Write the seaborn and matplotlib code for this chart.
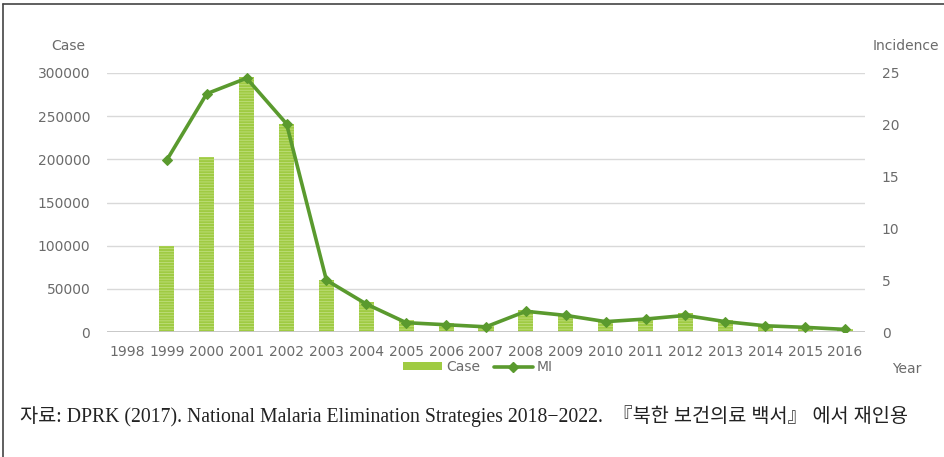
import matplotlib
matplotlib.use("Agg")
import matplotlib.pyplot as plt
from matplotlib.lines import Line2D
from matplotlib.patches import Patch
import numpy as np
import pandas as pd
import seaborn as sns

# Malaria cases and incidence (MI) in DPRK, 1998-2016
years = [str(y) for y in range(1998, 2017)]
cases = [0, 100000, 203000, 295000, 241000, 60000, 35000, 13500, 10500, 7500,
         25500, 20000, 13500, 16000, 21500, 14000, 8500, 5000, 4000]
mi_years = [str(y) for y in range(1999, 2017)]
mi_values = [16.6, 23.0, 24.5, 20.1, 5.0, 2.7, 0.9, 0.7, 0.5, 2.0,
             1.6, 1.0, 1.25, 1.6, 1.0, 0.6, 0.45, 0.25]

left_ticks = [0, 50000, 100000, 150000, 200000, 250000, 300000]
right_ticks = [0, 5, 10, 15, 20, 25]

BAR_GREEN = "#9fcb42"
BAR_LIGHT = "#c0de7e"
LINE_GREEN = "#5a9a2e"
GRID = "#d9d9d9"
TICK_GREY = "#6b6b6b"

sns.set_theme(style="white")
plt.rcParams["font.family"] = ["DejaVu Sans", "Noto Sans CJK KR"]
plt.rcParams["hatch.linewidth"] = 0.6

W, H = 945, 457
fig = plt.figure(figsize=(W / 100, H / 100), dpi=100)
fig.patch.set_facecolor("white")

x0, x1, y0, y1 = 107, 865, 73, 332
ax = fig.add_axes([x0 / W, 1 - y1 / H, (x1 - x0) / W, (y1 - y0) / H])

bar_df = pd.DataFrame({"year": years, "case": cases})
sns.barplot(data=bar_df, x="year", y="case", ax=ax, color=BAR_GREEN,
            width=0.38, saturation=1, edgecolor=BAR_LIGHT, linewidth=0,
            hatch="------")

ax.set_ylim(0, 300000)
ax.set_xlim(-0.5, len(years) - 0.5)
ax.set_yticks(left_ticks)
ax.set_yticklabels([str(t) for t in left_ticks])
ax.set_xlabel("")
ax.set_ylabel("")
for s in ax.spines.values():
    s.set_visible(False)
ax.grid(False)
for t in left_ticks[1:]:
    ax.axhline(t, color=GRID, lw=1.0, zorder=0)
ax.axhline(0, color="#c4c4c4", lw=1.3, zorder=3)
ax.tick_params(axis="y", length=0, pad=12, labelsize=10, labelcolor=TICK_GREY)
ax.tick_params(axis="x", length=0, pad=9, labelsize=10, labelcolor=TICK_GREY)

ax2 = ax.twinx()
pos = [years.index(y) for y in mi_years]
line_df = pd.DataFrame({"pos": pos, "mi": mi_values})
sns.lineplot(data=line_df, x="pos", y="mi", ax=ax2, color=LINE_GREEN,
             linewidth=2.6, marker="D", markersize=5.5,
             markeredgecolor=LINE_GREEN, sort=False)
ax2.set_ylim(0, 25)
ax2.set_xlim(-0.5, len(years) - 0.5)
ax2.set_yticks(right_ticks)
ax2.set_yticklabels([str(t) for t in right_ticks])
ax2.set_xlabel("")
ax2.set_ylabel("")
for s in ax2.spines.values():
    s.set_visible(False)
ax2.grid(False)
ax2.tick_params(axis="y", length=0, pad=12, labelsize=10, labelcolor=TICK_GREY)

# axis titles
fig.text(68 / W, 1 - 46 / H, "Case", ha="center", va="center",
         fontsize=10, color=TICK_GREY)
fig.text(906 / W, 1 - 46 / H, "Incidence", ha="center", va="center",
         fontsize=10, color=TICK_GREY)
fig.text(907 / W, 1 - 369 / H, "Year", ha="center", va="center",
         fontsize=10, color=TICK_GREY)

# legend
handles = [
    Patch(facecolor=BAR_GREEN, edgecolor="none"),
    Line2D([0], [0], color=LINE_GREEN, lw=2.6, marker="D", markersize=5),
]
fig.legend(handles, ["Case", "MI"], loc="center",
           bbox_to_anchor=(478 / W, 1 - 367 / H), ncol=2, frameon=False,
           fontsize=10, labelcolor=TICK_GREY, handlelength=2.8,
           handleheight=0.5, columnspacing=1.0, handletextpad=0.3,
           borderpad=0)

# source note
fig.text(20 / W, 1 - 416 / H,
         "자료: DPRK (2017). National Malaria Elimination Strategies 2018\u22122022.  "
         "『북한 보건의료 백서』 에서 재인용",
         ha="left", va="center", fontsize=14.2, color="#222222",
         family=["Liberation Serif", "Noto Sans CJK KR"])

# frame lines
fig.add_artist(Line2D([3.5 / W, 3.5 / W], [0, 1 - 3.5 / H],
                      transform=fig.transFigure, color="#444444", lw=1.2))
fig.add_artist(Line2D([3.5 / W, 1], [1 - 3.5 / H, 1 - 3.5 / H],
                      transform=fig.transFigure, color="#444444", lw=1.2))

fig.savefig("out.png", dpi=100, facecolor="white")
